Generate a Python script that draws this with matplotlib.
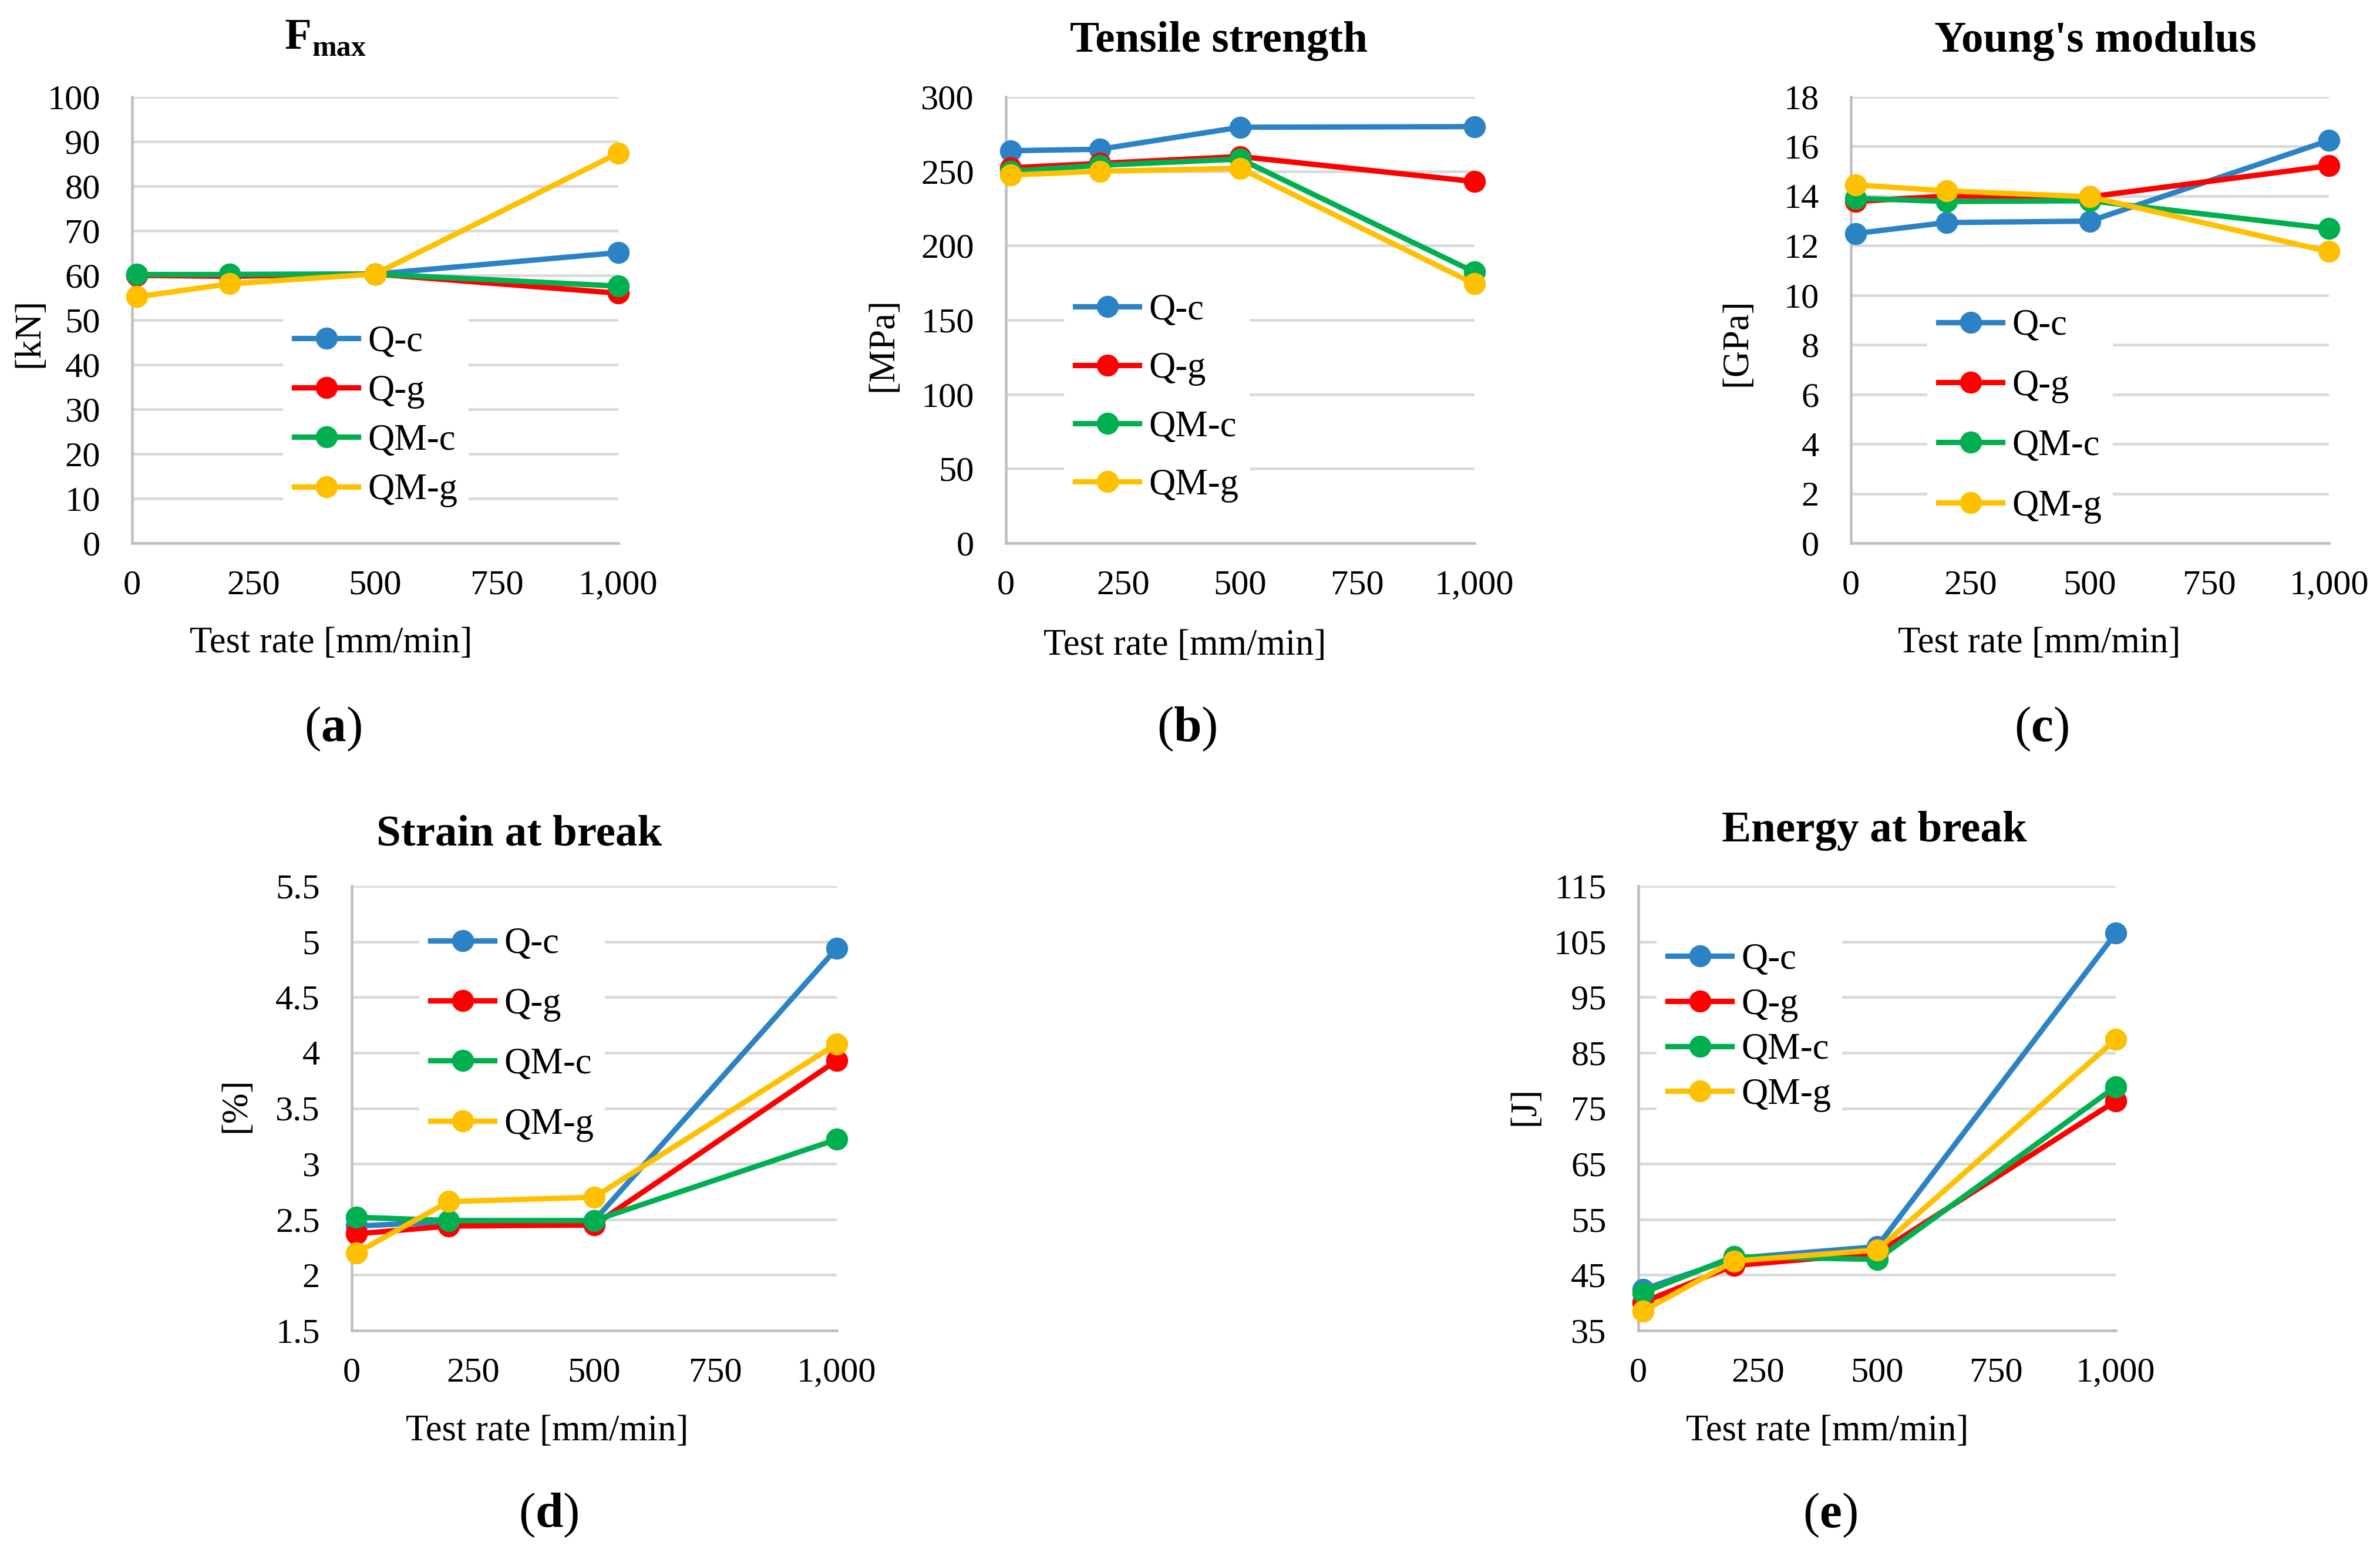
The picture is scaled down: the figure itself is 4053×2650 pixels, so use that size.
import matplotlib
matplotlib.use("Agg")
import matplotlib.pyplot as plt
from matplotlib.ticker import FuncFormatter, MultipleLocator

plt.rcParams["font.family"] = ["Liberation Serif", "DejaVu Serif"]
plt.rcParams["mathtext.fontset"] = "custom"
plt.rcParams["mathtext.rm"] = "Liberation Serif"
plt.rcParams["mathtext.bf"] = "Liberation Serif:bold"

# test rates [mm/min]
rate = [10, 200, 500, 1000]
series = ["Q-c", "Q-g", "QM-c", "QM-g"]
colors = ["#2B83C6", "#FF0000", "#00B050", "#FFC000"]

# (a) Fmax [kN]
fmax_qc = [60.1, 60.2, 60.3, 65.1]
fmax_qg = [60.0, 59.8, 60.3, 56.0]
fmax_qmc = [60.2, 60.2, 60.3, 57.6]
fmax_qmg = [55.2, 58.1, 60.3, 87.4]

# (b) tensile strength [MPa]
ts_qc = [263.8, 264.8, 279.6, 280.0]
ts_qg = [252.3, 255.3, 259.9, 243.1]
ts_qmc = [250.0, 254.0, 258.2, 182.2]
ts_qmg = [247.4, 250.0, 252.0, 174.3]

# (c) Young's modulus [GPa]
ym_qc = [12.49, 12.93, 12.99, 16.24]
ym_qg = [13.78, 14.0, 13.97, 15.22]
ym_qmc = [13.91, 13.78, 13.81, 12.69]
ym_qmg = [14.45, 14.21, 13.97, 11.76]

# (d) strain at break [%]
sb_qc = [2.44, 2.48, 2.49, 4.94]
sb_qg = [2.37, 2.44, 2.45, 3.93]
sb_qmc = [2.52, 2.49, 2.49, 3.22]
sb_qmg = [2.20, 2.66, 2.70, 4.08]

# (e) energy at break [J]
eb_qc = [42.4, 48.0, 50.1, 106.5]
eb_qg = [40.1, 46.7, 48.9, 76.3]
eb_qmc = [41.8, 48.3, 47.8, 78.9]
eb_qmg = [38.5, 47.5, 49.5, 87.4]

W, H = 4053, 2650
fig = plt.figure(figsize=(W / 300, H / 300), dpi=300)


def fx(px):
    return px / W


def fy(py):
    return 1 - py / H


def panel(left, right, top, bottom, data, ymin, ymax, ystep, ylabel, ylab_xy,
          leg_xy, leg_space, xlab_xy, tag, tag_xy):
    ax = fig.add_axes([fx(left), fy(bottom), fx(right - left), (bottom - top) / H])
    for vals, name, c in zip(data, series, colors):
        ax.plot(rate, vals, color=c, lw=2.2, marker="o", ms=8, label=name,
                clip_on=False, zorder=3)
    ax.set_xlim(0, 1000)
    ax.set_ylim(ymin, ymax)
    ax.xaxis.set_major_locator(MultipleLocator(250))
    nticks = int(round((ymax - ymin) / ystep)) + 1
    ax.set_yticks([ymin + i * ystep for i in range(nticks)])
    ax.xaxis.set_major_formatter(FuncFormatter(lambda v, p: f"{int(v):,}"))
    ax.yaxis.set_major_formatter(FuncFormatter(lambda v, p: f"{v:g}"))
    ax.tick_params(length=0, labelsize=14.5)
    ax.tick_params(axis="y", pad=13)
    ax.tick_params(axis="x", pad=11)
    ax.yaxis.grid(True, color="#D9D9D9", lw=1.1)
    ax.set_axisbelow(True)
    for s in ["top", "right"]:
        ax.spines[s].set_visible(False)
    for s in ["left", "bottom"]:
        ax.spines[s].set_color("#BFBFBF")
        ax.spines[s].set_linewidth(1.1)
    ax.legend(loc="center", bbox_to_anchor=(fx(leg_xy[0]), fy(leg_xy[1])),
              bbox_transform=fig.transFigure, frameon=True, facecolor="white",
              edgecolor="none", framealpha=1, fontsize=15, handlelength=1.75,
              handletextpad=0.25, labelspacing=leg_space, borderpad=0.3)
    fig.text(fx(ylab_xy[0]), fy(ylab_xy[1]), ylabel, rotation=90, ha="center",
             va="center", fontsize=15)
    fig.text(fx(xlab_xy[0]), fy(xlab_xy[1]), "Test rate [mm/min]", ha="center",
             va="center", fontsize=15)
    fig.text(fx(tag_xy[0]), fy(tag_xy[1]), "($\\mathbf{" + tag + "}$)",
             ha="center", va="center", fontsize=20.5)
    return ax


panel(225, 1053, 165, 925, [fmax_qc, fmax_qg, fmax_qmc, fmax_qmg], 0, 100, 10,
      "[kN]", (50, 567), (640, 709), 0.42, (564, 1096), "a", (567, 1242))
panel(1713, 2511, 165, 925, [ts_qc, ts_qg, ts_qmc, ts_qmg], 0, 300, 50,
      "[MPa]", (1504, 587), (1970, 678), 0.66, (2018, 1100), "b", (2021, 1242))
panel(3152, 3966, 165, 925, [ym_qc, ym_qg, ym_qmc, ym_qmg], 0, 18, 2,
      "[GPa]", (2958, 583), (3440, 709), 0.71, (3473, 1096), "c", (3476, 1242))
panel(599, 1425, 1509, 2266, [sb_qc, sb_qg, sb_qmc, sb_qmg], 1.5, 5.5, 0.5,
      "[%]", (402, 1882), (872, 1762), 0.71, (932, 2438), "d", (934, 2581))
panel(2790, 3603, 1509, 2266, [eb_qc, eb_qg, eb_qmc, eb_qmg], 35, 115, 10,
      "[J]", (2597, 1884), (2979, 1750), 0.3, (3112, 2438), "e", (3116, 2581))

# panel titles
fig.text(fx(531), fy(83), "F", ha="right", va="baseline", fontsize=18,
         fontweight="bold")
fig.text(fx(532), fy(96), "max", ha="left", va="baseline", fontsize=12,
         fontweight="bold")
fig.text(fx(2075), fy(88), "Tensile strength", ha="center", va="baseline",
         fontsize=18, fontweight="bold")
fig.text(fx(3568), fy(88), "Young's modulus", ha="center", va="baseline",
         fontsize=18, fontweight="bold")
fig.text(fx(884), fy(1440), "Strain at break", ha="center", va="baseline",
         fontsize=18, fontweight="bold")
fig.text(fx(3192), fy(1433), "Energy at break", ha="center", va="baseline",
         fontsize=18, fontweight="bold")

fig.savefig("out.png", dpi=300, facecolor="white")
